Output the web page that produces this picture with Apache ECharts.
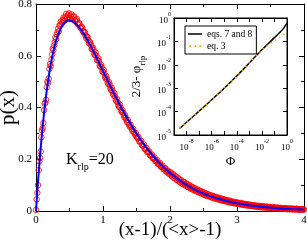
<!DOCTYPE html>
<html><head><meta charset="utf-8">
<script src="https://cdn.jsdelivr.net/npm/echarts@6/dist/echarts.min.js"></script>
<style>html,body{margin:0;padding:0;background:#fff}#c{width:307px;height:242px}</style>
</head><body><div id="c"></div>
<script>
// Main panel: simulated histogram (red circles), two interleaved sets of bins
const redX = [
0.00,0.02,0.04,0.06,0.08,0.10,0.12,0.14,0.16,0.18,0.20,0.22,0.24,0.26,0.28,0.30,0.32,0.34,0.36,0.38,
0.40,0.42,0.44,0.46,0.48,0.50,0.52,0.54,0.56,0.58,0.60,0.62,0.64,0.66,0.68,0.70,0.72,0.74,0.76,0.78,
0.80,0.82,0.84,0.86,0.88,0.90,0.92,0.94,0.96,0.98,1.00,1.02,1.04,1.06,1.08,1.10,1.12,1.14,1.16,1.18,
1.20,1.22,1.24,1.26,1.28,1.30,1.32,1.34,1.36,1.38,1.40,1.42,1.44,1.46,1.48,1.50,1.52,1.54,1.56,1.58,
1.60,1.62,1.64,1.66,1.68,1.70,1.72,1.74,1.76,1.78,1.80,1.82,1.84,1.86,1.88,1.90,1.92,1.94,1.96,1.98,
2.00,2.02,2.04,2.06,2.08,2.10,2.12,2.14,2.16,2.18,2.20,2.22,2.24,2.26,2.28,2.30,2.32,2.34,2.36,2.38,
2.40,2.42,2.44,2.46,2.48,2.50,2.52,2.54,2.56,2.58,2.60,2.62,2.64,2.66,2.68,2.70,2.72,2.74,2.76,2.78,
2.80,2.82,2.84,2.86,2.88,2.90,2.92,2.94,2.96,2.98,3.00,3.02,3.04,3.06,3.08,3.10,3.12,3.14,3.16,3.18,
3.20,3.22,3.24,3.26,3.28,3.30,3.32,3.34,3.36,3.38,3.40,3.42,3.44,3.46,3.48,3.50,3.52,3.54,3.56,3.58,
3.60,3.62,3.64,3.66,3.68,3.70,3.72,3.74,3.76,3.78,3.80,3.82,3.84,3.86,3.88,3.90,3.92,3.94,3.96,3.98,
4.00];
const redY = [
0.004,0.070,0.158,0.205,0.285,0.320,0.390,0.418,0.478,0.495,0.549,0.560,0.605,0.622,0.652,0.664,0.690,0.695,0.718,0.722,
0.738,0.735,0.752,0.745,0.758,0.748,0.755,0.742,0.750,0.736,0.738,0.724,0.726,0.710,0.712,0.695,0.693,0.678,0.674,0.660,
0.652,0.642,0.628,0.622,0.603,0.600,0.582,0.580,0.558,0.556,0.538,0.532,0.512,0.510,0.490,0.489,0.468,0.465,0.446,0.443,
0.424,0.420,0.402,0.400,0.383,0.380,0.362,0.360,0.344,0.341,0.326,0.324,0.309,0.306,0.295,0.288,0.281,0.270,0.266,0.255,
0.252,0.241,0.238,0.228,0.226,0.216,0.214,0.204,0.203,0.193,0.192,0.182,0.181,0.172,0.171,0.162,0.164,0.153,0.154,0.145,
0.148,0.138,0.141,0.129,0.134,0.121,0.126,0.114,0.118,0.107,0.112,0.101,0.105,0.095,0.099,0.089,0.093,0.084,0.088,0.079,
0.083,0.074,0.078,0.070,0.073,0.066,0.069,0.061,0.064,0.058,0.060,0.054,0.057,0.051,0.053,0.048,0.050,0.045,0.047,0.042,
0.044,0.039,0.041,0.037,0.039,0.034,0.036,0.032,0.034,0.030,0.032,0.028,0.030,0.026,0.028,0.024,0.026,0.023,0.025,0.021,
0.023,0.020,0.022,0.019,0.020,0.017,0.019,0.016,0.018,0.015,0.017,0.014,0.016,0.013,0.015,0.012,0.014,0.011,0.013,0.011,
0.012,0.010,0.011,0.009,0.011,0.008,0.010,0.008,0.009,0.007,0.009,0.007,0.008,0.006,0.008,0.006,0.007,0.005,0.007,0.005,
0.006];
const redX2 = [
0.01,0.03,0.05,0.07,0.09,0.11,0.13,0.15,0.17,0.19,0.21,0.23,0.25,0.27,0.29,0.31,0.33,0.35,0.37,0.39,
0.41,0.43,0.45,0.47,0.49,0.51,0.53,0.55,0.57,0.59,0.61,0.63,0.65,0.67,0.69,0.71,0.73,0.75,0.77,0.79,
0.81,0.83,0.85,0.87,0.89,0.91,0.93,0.95,0.97,0.99,1.01,1.03,1.05,1.07,1.09,1.11,1.13,1.15,1.17,1.19,
1.21,1.23,1.25,1.27,1.29,1.31,1.33,1.35,1.37,1.39,1.41,1.43,1.45,1.47,1.49,1.51,1.53,1.55,1.57,1.59,
1.61,1.63,1.65,1.67,1.69,1.71,1.73,1.75,1.77,1.79,1.81,1.83,1.85,1.87,1.89,1.91,1.93,1.95,1.97,1.99,
2.01,2.03,2.05,2.07,2.09,2.11,2.13,2.15,2.17,2.19,2.21,2.23,2.25,2.27,2.29,2.31,2.33,2.35,2.37,2.39,
2.41,2.43,2.45,2.47,2.49,2.51,2.53,2.55,2.57,2.59,2.61,2.63,2.65,2.67,2.69,2.71,2.73,2.75,2.77,2.79,
2.81,2.83,2.85,2.87,2.89,2.91,2.93,2.95,2.97,2.99,3.01,3.03,3.05,3.07,3.09,3.11,3.13,3.15,3.17,3.19,
3.21,3.23,3.25,3.27,3.29,3.31,3.33,3.35,3.37,3.39,3.41,3.43,3.45,3.47,3.49,3.51,3.53,3.55,3.57,3.59,
3.61,3.63,3.65,3.67,3.69,3.71,3.73,3.75,3.77,3.79,3.81,3.83,3.85,3.87,3.89,3.91,3.93,3.95,3.97,3.99];
const redY2 = [
0.045,0.100,0.192,0.230,0.312,0.340,0.415,0.430,0.500,0.512,0.568,0.585,0.628,0.640,0.671,0.682,0.705,0.716,0.732,0.728,
0.748,0.744,0.762,0.751,0.764,0.743,0.760,0.741,0.752,0.733,0.742,0.721,0.725,0.706,0.708,0.690,0.690,0.668,0.672,0.648,
0.652,0.626,0.632,0.606,0.612,0.584,0.590,0.562,0.566,0.540,0.545,0.518,0.520,0.495,0.498,0.474,0.476,0.452,0.455,0.430,
0.432,0.408,0.411,0.388,0.390,0.369,0.370,0.350,0.352,0.333,0.334,0.316,0.318,0.300,0.301,0.284,0.286,0.269,0.271,0.254,
0.257,0.240,0.243,0.228,0.230,0.215,0.218,0.204,0.207,0.193,0.196,0.182,0.185,0.171,0.175,0.161,0.165,0.152,0.156,0.143,
0.150,0.134,0.142,0.126,0.133,0.118,0.126,0.111,0.119,0.104,0.112,0.098,0.106,0.092,0.100,0.086,0.094,0.081,0.088,0.076,
0.083,0.071,0.078,0.067,0.074,0.062,0.069,0.058,0.065,0.055,0.061,0.051,0.058,0.048,0.054,0.045,0.051,0.042,0.048,0.039,
0.045,0.037,0.042,0.034,0.040,0.032,0.037,0.030,0.035,0.028,0.033,0.026,0.031,0.024,0.029,0.023,0.027,0.021,0.026,0.020,
0.024,0.019,0.023,0.017,0.021,0.016,0.020,0.015,0.019,0.014,0.018,0.013,0.017,0.012,0.016,0.011,0.015,0.010,0.014,0.010,
0.013,0.009,0.012,0.008,0.011,0.008,0.011,0.007,0.010,0.007,0.010,0.006,0.009,0.006,0.009,0.005,0.008,0.005,0.008,0.005];
// Main panel: fitted distribution (blue line)
const blueX = [0,0.025,0.05,0.075,0.1,0.15,0.2,0.25,0.3,0.35,0.4,0.45,0.5,0.55,0.6,0.7,0.8,0.9,1.0,1.1,1.2,1.3,1.4,1.5,1.6,1.7,1.8,1.9,2.0,2.2,2.4,2.6,2.8,3.0,3.2,3.4,3.6,3.8,4.0];
const blueY = [0,0.095,0.181,0.258,0.3275,0.4445,0.5363,0.6065,0.6586,0.6952,0.7189,0.7318,0.7358,0.7324,0.7229,0.6905,0.6460,0.5951,0.5413,0.4875,0.4354,0.3862,0.3406,0.2987,0.2609,0.2271,0.1968,0.1701,0.1465,0.1081,0.0790,0.0574,0.0414,0.0297,0.0213,0.0152,0.0108,0.0076,0.0054];
// Inset
const phi  = [2.8e-9,1e-8,1e-7,1e-6,1e-5,1e-4,1e-3,1e-2,3.16e-2,0.1,0.316,0.562,1];
const eq78 = [1.9e-5,3.5e-5,1.05e-4,3.2e-4,1.0e-3,3.3e-3,1.2e-2,4.4e-2,7.9e-2,0.145,0.263,0.38,0.60];
const eq3  = [1.9e-5,3.5e-5,1.05e-4,3.2e-4,1.0e-3,3.3e-3,1.2e-2,4.3e-2,7.2e-2,0.107,0.158,0.195,0.23];

const F = 'Liberation Serif';
const zip = (a,b)=>a.map((v,i)=>[v,b[i]]);
const expFmt = v => { const e = Math.round(Math.log10(v)); return '{b|10}{s|' + e + '}'; };
const supRich = {b:{fontFamily:F,fontSize:9,color:'#000',lineHeight:14,verticalAlign:'bottom'},
                 s:{fontFamily:F,fontSize:6,color:'#000',lineHeight:14,verticalAlign:'top'}};
const blk = {color:'#000',width:1};

const mainX = (pos, show) => ({type:'value', gridIndex:0, position:pos, min:0, max:4, interval:1,
  axisLine:{onZero:false,lineStyle:blk}, axisTick:{inside:true,length:5,lineStyle:blk},
  minorTick:{show:true,splitNumber:2,length:3,lineStyle:blk}, splitLine:{show:false},
  axisLabel:{show:show,color:'#000',fontFamily:F,fontSize:11,margin:4},
  name: show ? '(x-1)/(<x>-1)' : '', nameLocation:'middle', nameGap:10, nameMoveOverlap:false,
  nameTextStyle:{fontFamily:F,fontSize:19,color:'#000',verticalAlign:'top'}});
const mainY = (pos, show) => ({type:'value', gridIndex:0, position:pos, min:0, max:0.8, interval:0.2,
  axisLine:{onZero:false,lineStyle:blk}, axisTick:{inside:true,length:5,lineStyle:blk},
  minorTick:{show:true,splitNumber:2,length:3,lineStyle:blk}, splitLine:{show:false},
  axisLabel:{show:show,color:'#000',fontFamily:F,fontSize:11,margin:4, formatter: v => v===0?'0':v.toFixed(1)},
  name: show ? 'p(x)' : '', nameLocation:'middle', nameGap:17, nameMoveOverlap:false,
  nameTextStyle:{fontFamily:F,fontSize:21,color:'#000'}});
const insX = (pos, show) => ({type:'log', logBase:10, gridIndex:1, position:pos, min:1e-9, max:1, interval:1,
  axisLine:{onZero:false,lineStyle:blk}, axisTick:{inside:true,length:4,lineStyle:blk}, splitLine:{show:false},
  axisLabel:{show:show, margin:3, formatter: v => { const e=Math.round(Math.log10(v)); return (e%2===0)? expFmt(v):''; }, rich:supRich},
  name: show ? 'Φ' : '', nameLocation:'middle', nameGap:20, nameMoveOverlap:false,
  nameTextStyle:{fontFamily:F,fontSize:13,color:'#000'}});
const insY = (pos, show) => ({type:'log', logBase:10, gridIndex:1, position:pos, min:1e-5, max:1, interval:1,
  axisLine:{onZero:false,lineStyle:blk}, axisTick:{inside:true,length:4,lineStyle:blk}, splitLine:{show:false},
  axisLabel:{show:show, margin:3, formatter: expFmt, rich:supRich},
  name: show ? '2/3- φ{s|rlp}' : '', nameLocation:'middle', nameGap:27, nameMoveOverlap:false,
  nameTextStyle:{fontFamily:F,fontSize:13,color:'#000',
    rich:{s:{fontFamily:F,fontSize:9,color:'#000',lineHeight:20,verticalAlign:'bottom'}}}});

const lineIcon = 'path://M0,0h0.01v0.01h-0.01z M0,3.2h14v1.6h-14z M0,8h0.01v0.01h-0.01z';
const dotIcon = 'path://M0,0h0.01v0.01h-0.01z M0.5,3.2h1.7v1.7h-1.7z M5.5,3.2h1.7v1.7h-1.7z M10.5,3.2h1.7v1.7h-1.7z M0,8h0.01v0.01h-0.01z';
const redStyle = {color:'rgba(0,0,0,0)',borderColor:'#ff0000',borderWidth:1};

const chart = echarts.init(document.getElementById('c'), null, {renderer:'canvas'});
chart.setOption({
  animation:false,
  backgroundColor:'#fff',
  grid:[
    {left:36,right:3,top:4,bottom:31,containLabel:false,outerBoundsMode:'none'},
    {left:174,right:20,top:18,bottom:107,containLabel:false,outerBoundsMode:'none',show:true,backgroundColor:'#fff',borderColor:'#000',borderWidth:1}
  ],
  xAxis:[mainX('bottom',true), mainX('top',false), insX('bottom',true), insX('top',false)],
  yAxis:[mainY('left',true), mainY('right',false), insY('left',true), insY('right',false)],
  legend:{
    data:[{name:'eqs. 7 and 8',icon:lineIcon},{name:'eq. 3',icon:dotIcon}], orient:'vertical', left:185, top:26,
    itemWidth:14, itemHeight:8, itemGap:2, padding:[3,4,3,3],
    borderColor:'#000', borderWidth:1, backgroundColor:'#fff',
    textStyle:{fontFamily:F,fontSize:9.5,color:'#000'}
  },
  graphic:[{type:'text', left:66, top:152,
    style:{text:'{a|K}{b|rlp}{a|=20}',
      rich:{a:{fontFamily:F,fontSize:16,color:'#000',lineHeight:24,verticalAlign:'middle'},
            b:{fontFamily:F,fontSize:10,color:'#000',lineHeight:24,verticalAlign:'bottom'}}}}],
  series:[
    {type:'scatter', xAxisIndex:0, yAxisIndex:0, data:zip(redX,redY), symbol:'circle', symbolSize:5.5,
     itemStyle:redStyle, z:2},
    {type:'scatter', xAxisIndex:0, yAxisIndex:0, data:zip(redX2,redY2), symbol:'circle', symbolSize:5.5,
     itemStyle:redStyle, z:2},
    {type:'line', xAxisIndex:0, yAxisIndex:0, data:zip(blueX,blueY), showSymbol:false, symbol:'none', smooth:0.3,
     lineStyle:{color:'#0000ff',width:2}, z:3},
    {name:'eqs. 7 and 8', type:'line', xAxisIndex:2, yAxisIndex:2, data:zip(phi,eq78), symbol:'none', smooth:0.3,
     lineStyle:{color:'#000',width:1.5}, itemStyle:{color:'#000'}, z:4},
    {name:'eq. 3', type:'line', xAxisIndex:2, yAxisIndex:2, data:zip(phi,eq3), symbol:'none', smooth:0.3,
     lineStyle:{color:'#ffa500',width:1.5,type:[1.5,3.5]}, itemStyle:{color:'#ffa500'}, z:4}
  ]
});
</script></body></html>
